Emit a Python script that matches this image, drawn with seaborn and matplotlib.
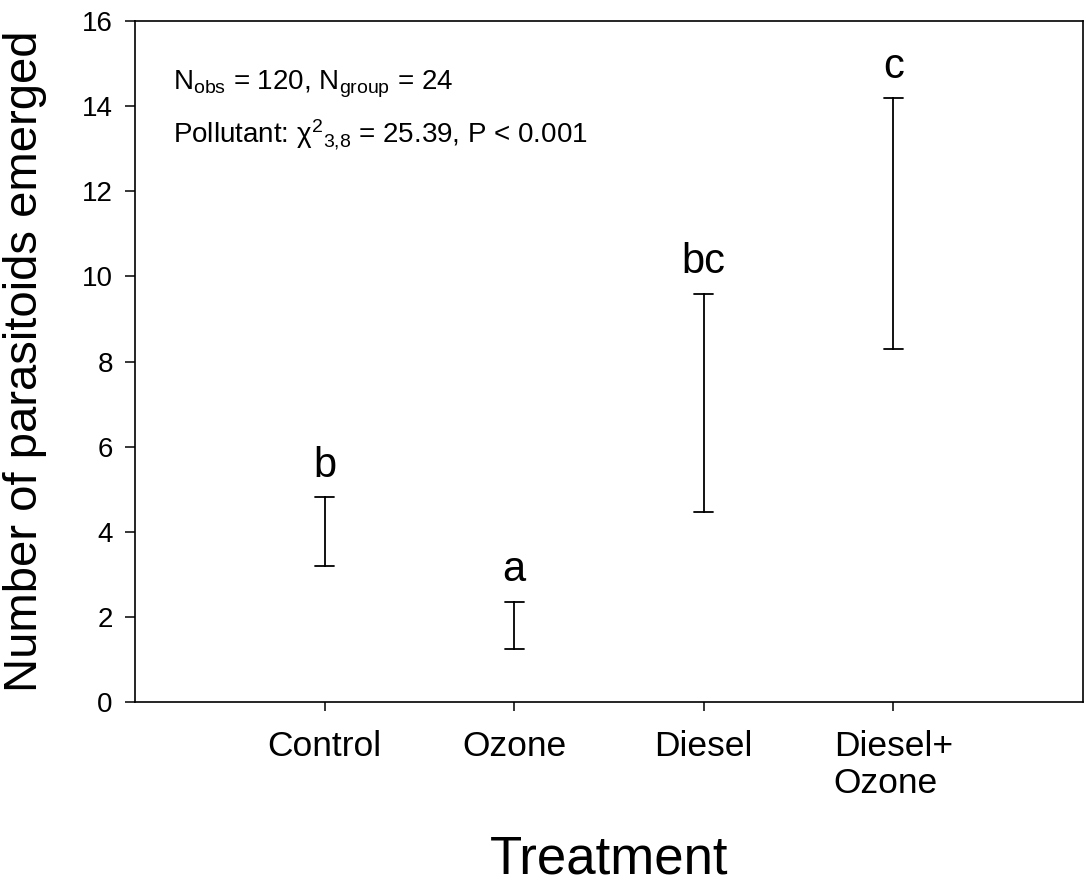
import pandas as pd
import seaborn as sns
import matplotlib.pyplot as plt

# interval bounds
treatments = ["Control", "Ozone", "Diesel", "Diesel+\nOzone"]
lower = [3.20, 1.25, 4.47, 8.30]
upper = [4.81, 2.36, 9.59, 14.18]
letters = ["b", "a", "bc", "c"]

df = pd.DataFrame({
    "Treatment": treatments * 2,
    "value": lower + upper,
})

sns.set_theme(style="ticks")
plt.rcParams['font.family'] = ['Liberation Sans', 'DejaVu Sans']
plt.rcParams['mathtext.fontset'] = 'custom'
plt.rcParams['mathtext.rm'] = 'Liberation Sans'
plt.rcParams['mathtext.it'] = 'Liberation Sans:italic'
for k in ['text.color', 'axes.labelcolor', 'xtick.color', 'ytick.color', 'axes.edgecolor']:
    plt.rcParams[k] = 'black'

fig = plt.figure(figsize=(10.86, 8.86), dpi=100)
ax = fig.add_axes([135/1086, 1 - 702/886, 948/1086, 681/886])

# min/max of the two bounds gives the whisker
sns.pointplot(data=df, x="Treatment", y="value", order=treatments,
              errorbar=("pi", 100), capsize=0.1, color="black",
              linestyle="none", marker="", err_kws={"linewidth": 1.3}, ax=ax)

for i, (u, lab) in enumerate(zip(upper, letters)):
    ax.text(i, u + 0.48, lab, ha="center", va="baseline", fontsize=30)

ax.set_xlim(-1, 4)
ax.set_ylim(0, 16)
ax.set_yticks(range(0, 17, 2))

for s in ax.spines.values():
    s.set_visible(True)
    s.set_linewidth(1.2)
    s.set_color("black")

ax.tick_params(axis="y", labelsize=20, length=7, width=1.1, pad=9)
ax.tick_params(axis="x", labelsize=25.5, length=6.5, width=1.1, pad=14)
for t in ax.get_xticklabels():
    t.set_multialignment("left")
    t.set_linespacing(1.15)

ax.set_xlabel("Treatment", fontsize=38)
ax.set_ylabel("Number of parasitoids emerged", fontsize=34)
ax.xaxis.set_label_coords(0.5, -0.194)
ax.yaxis.set_label_coords(-0.093, 0.5)

ax.text(0.040, 0.8987, r"$\mathregular{N_{obs}}$ = 120, $\mathregular{N_{group}}$ = 24",
        transform=ax.transAxes, fontsize=20, va="baseline")
ax.text(0.040, 0.8209, r"Pollutant: $\mathregular{χ^{2}{}_{3{,}8}}$ = 25.39, P < 0.001",
        transform=ax.transAxes, fontsize=20, va="baseline")

plt.savefig("out.png", dpi=100)
